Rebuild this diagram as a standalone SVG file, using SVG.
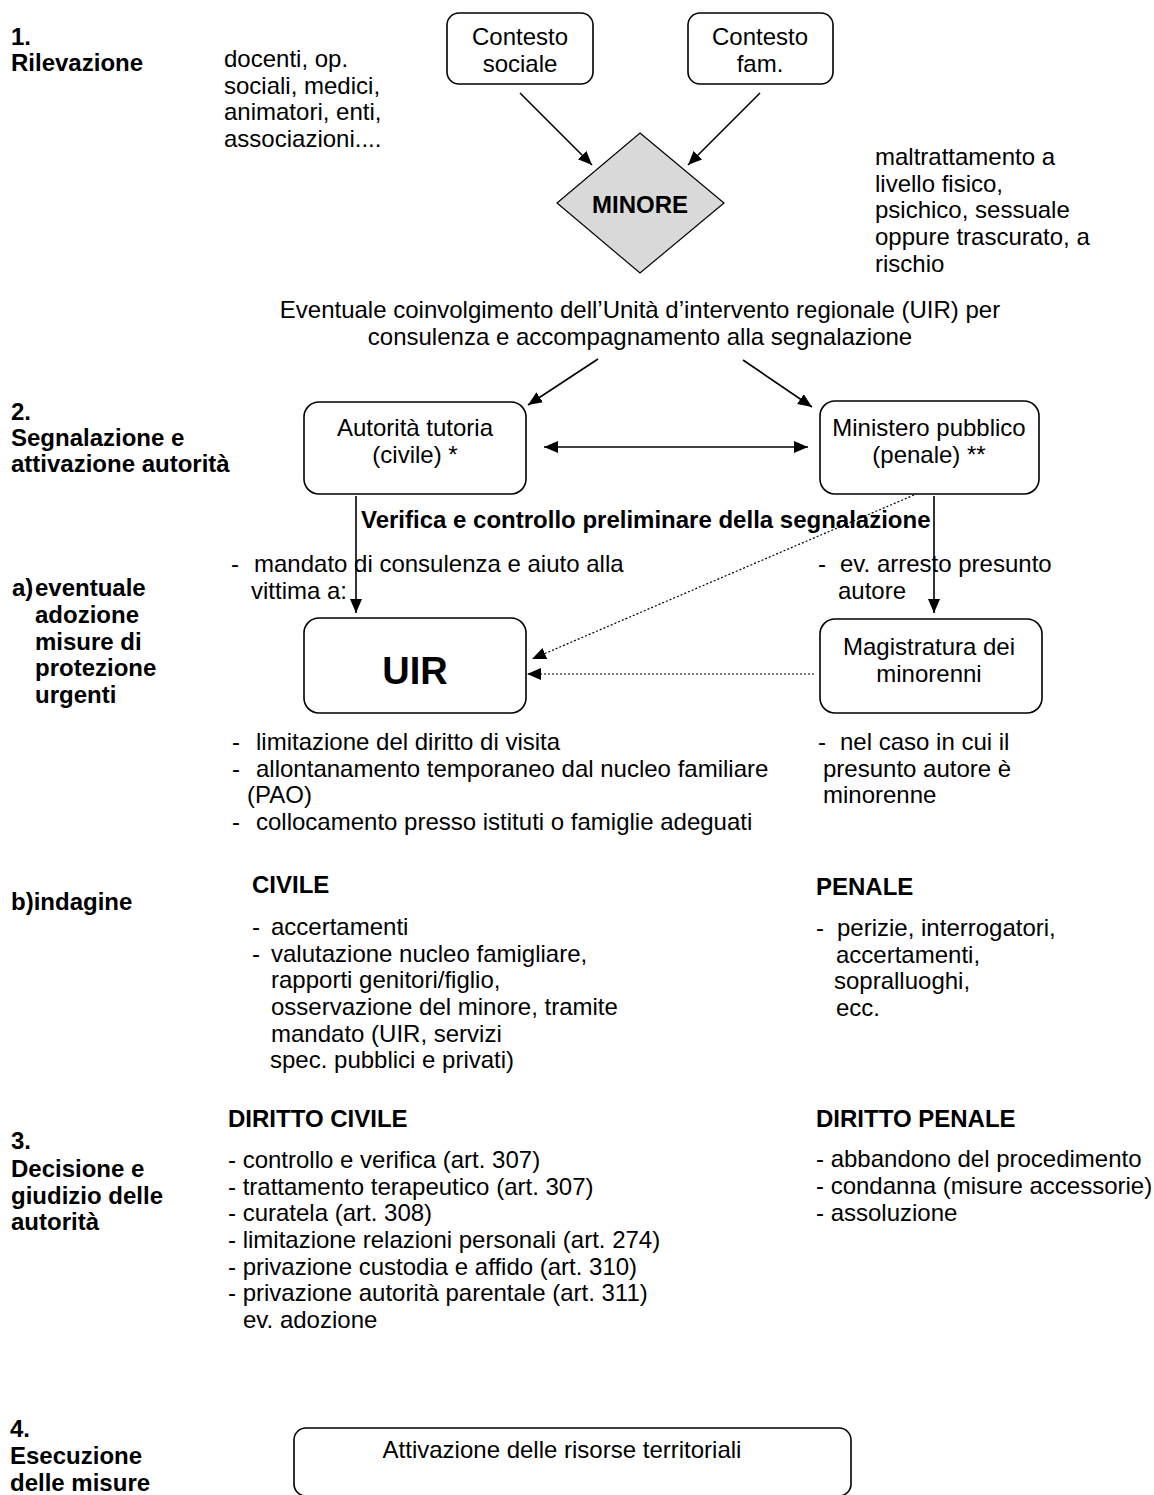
<svg xmlns="http://www.w3.org/2000/svg" width="1154" height="1495" viewBox="0 0 1154 1495">
<defs>
<style>
text{font-family:"Liberation Sans",Arial,sans-serif;font-size:24px;fill:#000}
.b{font-weight:bold}
.c{text-anchor:middle}
.box{fill:#fff;stroke:#000;stroke-width:1.6}
.ln{fill:none;stroke:#000;stroke-width:1.6}
.dot{fill:none;stroke:#000;stroke-width:1.2;stroke-dasharray:2 2}
</style>
<marker id="ah" markerUnits="userSpaceOnUse" markerWidth="16" markerHeight="14" refX="14" refY="6" orient="auto-start-reverse">
<path d="M0,0 L14,6 L0,12 z" fill="#000"/>
</marker>
<clipPath id="clipDoc"><rect x="200" y="40" width="220" height="107"/></clipPath>
</defs>
<rect width="1154" height="1495" fill="#fff"/>

<g id="labels">
<text class="b" x="11" y="45">1.</text>
<text class="b" x="11" y="71">Rilevazione</text>
<text class="b" x="11" y="420">2.</text>
<text class="b" x="11" y="446">Segnalazione e</text>
<text class="b" x="11" y="472">attivazione autorità</text>
<text class="b" x="12" y="596">a)</text>
<text class="b" x="35" y="596">eventuale</text>
<text class="b" x="35" y="623">adozione</text>
<text class="b" x="35" y="650">misure di</text>
<text class="b" x="35" y="676">protezione</text>
<text class="b" x="35" y="703">urgenti</text>
<text class="b" x="11" y="910">b)indagine</text>
<text class="b" x="11" y="1149">3.</text>
<text class="b" x="11" y="1177">Decisione e</text>
<text class="b" x="11" y="1204">giudizio delle</text>
<text class="b" x="11" y="1230">autorità</text>
<text class="b" x="10" y="1437">4.</text>
<text class="b" x="10" y="1464">Esecuzione</text>
<text class="b" x="10" y="1491">delle misure</text>
</g>

<g id="rilevatori" clip-path="url(#clipDoc)">
<text x="224" y="67">docenti, op.</text>
<text x="224" y="94">sociali, medici,</text>
<text x="224" y="120">animatori, enti,</text>
<text x="224" y="147">associazioni....</text>
</g>

<g id="contesto-sociale">
<rect class="box" x="447" y="13" width="146" height="71" rx="12"/>
<text class="c" x="520" y="45">Contesto</text>
<text class="c" x="520" y="72">sociale</text>
</g>
<g id="contesto-fam">
<rect class="box" x="688" y="13" width="145" height="71" rx="12"/>
<text class="c" x="760" y="45">Contesto</text>
<text class="c" x="760" y="72">fam.</text>
</g>

<g id="minore">
<polygon points="640,133 724,203 640,273 557,203" fill="#d9d9d9" stroke="#000" stroke-width="1.2"/>
<text class="b c" x="640" y="213">MINORE</text>
</g>

<g id="maltrattamento">
<text x="875" y="165">maltrattamento a</text>
<text x="875" y="192">livello fisico,</text>
<text x="875" y="218">psichico, sessuale</text>
<text x="875" y="245">oppure trascurato, a</text>
<text x="875" y="272">rischio</text>
</g>

<g id="uir-coinvolgimento">
<text class="c" x="640" y="318">Eventuale coinvolgimento dell’Unità d’intervento regionale (UIR) per</text>
<text class="c" x="640" y="345">consulenza e accompagnamento alla segnalazione</text>
</g>

<g id="autorita-tutoria">
<rect class="box" x="304" y="402" width="222" height="92" rx="15"/>
<text class="c" x="415" y="436">Autorità tutoria</text>
<text class="c" x="415" y="463">(civile) *</text>
</g>
<g id="ministero-pubblico">
<rect class="box" x="820" y="401" width="219" height="93" rx="15"/>
<text class="c" x="929" y="436">Ministero pubblico</text>
<text class="c" x="929" y="463">(penale) **</text>
</g>

<g id="verifica">
<text class="b" x="361" y="528">Verifica e controllo preliminare della segnalazione</text>
</g>

<g id="mandato">
<text x="231" y="572">-</text>
<text x="254" y="572">mandato di consulenza e aiuto alla</text>
<text x="251" y="599">vittima a:</text>
</g>
<g id="arresto">
<text x="818" y="572">-</text>
<text x="840" y="572">ev. arresto presunto</text>
<text x="838" y="599">autore</text>
</g>

<g id="uir">
<rect class="box" x="304" y="618" width="222" height="95" rx="15"/>
<text class="b c" x="415" y="684" style="font-size:38px">UIR</text>
</g>
<g id="magistratura">
<rect class="box" x="820" y="619" width="222" height="94" rx="15"/>
<text class="c" x="929" y="655">Magistratura dei</text>
<text class="c" x="929" y="682">minorenni</text>
</g>

<g id="misure-urgenti">
<text x="232" y="750">-</text>
<text x="256" y="750">limitazione del diritto di visita</text>
<text x="232" y="777">-</text>
<text x="256" y="777">allontanamento temporaneo dal nucleo familiare</text>
<text x="247" y="803">(PAO)</text>
<text x="232" y="830">-</text>
<text x="256" y="830">collocamento presso istituti o famiglie adeguati</text>
</g>
<g id="minorenne">
<text x="818" y="750">-</text>
<text x="840" y="750">nel caso in cui il</text>
<text x="823" y="777">presunto autore è</text>
<text x="823" y="803">minorenne</text>
</g>

<g id="indagine-civile">
<text class="b" x="252" y="893">CIVILE</text>
<text x="252" y="935">-</text>
<text x="271" y="935">accertamenti</text>
<text x="252" y="962">-</text>
<text x="271" y="962">valutazione nucleo famigliare,</text>
<text x="271" y="988">rapporti genitori/figlio,</text>
<text x="271" y="1015">osservazione del minore, tramite</text>
<text x="271" y="1042">mandato (UIR, servizi</text>
<text x="270" y="1068">spec. pubblici e privati)</text>
</g>
<g id="indagine-penale">
<text class="b" x="816" y="895">PENALE</text>
<text x="816" y="936">-</text>
<text x="837" y="936">perizie, interrogatori,</text>
<text x="836" y="963">accertamenti,</text>
<text x="834" y="989">sopralluoghi,</text>
<text x="836" y="1016">ecc.</text>
</g>

<g id="diritto-civile">
<text class="b" x="228" y="1127">DIRITTO CIVILE</text>
<text x="228" y="1168">- controllo e verifica (art. 307)</text>
<text x="228" y="1195">- trattamento terapeutico (art. 307)</text>
<text x="228" y="1221">- curatela (art. 308)</text>
<text x="228" y="1248">- limitazione relazioni personali (art. 274)</text>
<text x="228" y="1275">- privazione custodia e affido (art. 310)</text>
<text x="228" y="1301">- privazione autorità parentale (art. 311)</text>
<text x="243" y="1328">ev. adozione</text>
</g>
<g id="diritto-penale">
<text class="b" x="816" y="1127">DIRITTO PENALE</text>
<text x="816" y="1167">- abbandono del procedimento</text>
<text x="816" y="1194">- condanna (misure accessorie)</text>
<text x="816" y="1221">- assoluzione</text>
</g>

<g id="risorse">
<rect class="box" x="294" y="1428" width="557" height="68" rx="12"/>
<text class="c" x="562" y="1458">Attivazione delle risorse territoriali</text>
</g>

<g id="connectors">
<line class="ln" x1="520" y1="93" x2="592" y2="165" marker-end="url(#ah)"/>
<line class="ln" x1="760" y1="93" x2="688" y2="165" marker-end="url(#ah)"/>
<line class="ln" x1="598" y1="359" x2="528" y2="405" marker-end="url(#ah)"/>
<line class="ln" x1="743" y1="360" x2="812" y2="407" marker-end="url(#ah)"/>
<line class="ln" x1="544" y1="447" x2="808" y2="447" marker-start="url(#ah)" marker-end="url(#ah)"/>
<line class="ln" x1="356" y1="496" x2="356" y2="613" marker-end="url(#ah)"/>
<line class="ln" x1="934" y1="496" x2="934" y2="613" marker-end="url(#ah)"/>
<line class="dot" x1="914" y1="495" x2="532" y2="659" marker-end="url(#ah)"/>
<line class="dot" x1="814" y1="674" x2="527" y2="674" marker-end="url(#ah)"/>
</g>
</svg>
